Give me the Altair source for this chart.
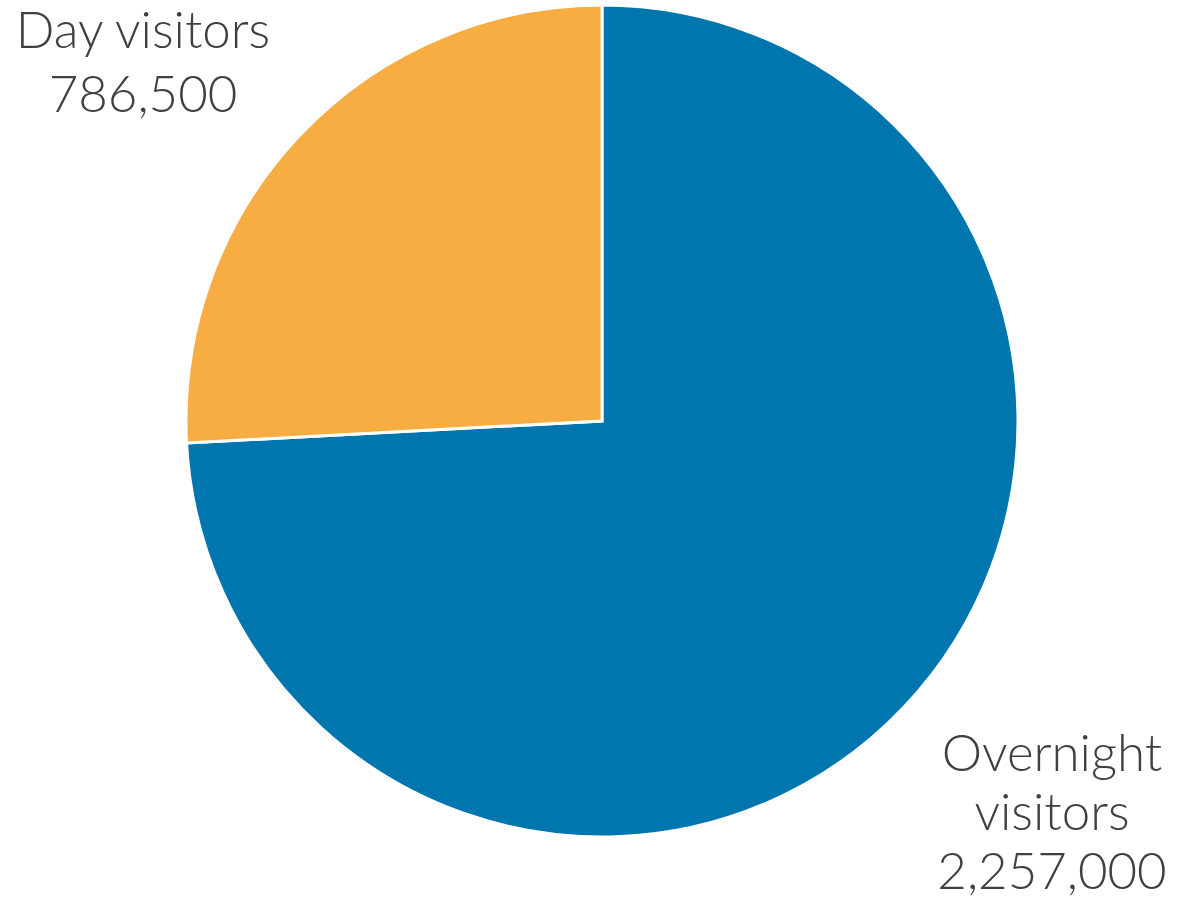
import altair as alt
import pandas as pd

categories = ["Overnight visitors", "Day visitors"]
values = [2257000, 786500]
colors = ["#0076AE", "#F8AD42"]

df = pd.DataFrame({"category": categories, "value": values, "order": [0, 1]})

base = alt.Chart(df)

pie = base.mark_arc(radius=416, stroke="white", strokeWidth=3).encode(
    theta=alt.Theta("value:Q", stack=True),
    color=alt.Color("category:N", scale=alt.Scale(domain=categories, range=colors), legend=None),
    order=alt.Order("order:Q"),
    x=alt.value(602),
    y=alt.value(421),
)

font = "Lato"

day_label = alt.Chart(pd.DataFrame({"t": [["Day visitors", f"{values[1]:,}"]]})).mark_text(
    font=font, fontSize=51, fontWeight=300, color="#404040", align="center",
    baseline="alphabetic", lineHeight=64
).encode(text="t", x=alt.value(143), y=alt.value(48))

night_label = alt.Chart(pd.DataFrame({"t": [["Overnight", "visitors", f"{values[0]:,}"]]})).mark_text(
    font=font, fontSize=51, fontWeight=300, color="#404040", align="center",
    baseline="alphabetic", lineHeight=59
).encode(text="t", x=alt.value(1052), y=alt.value(771))

chart = alt.layer(pie, day_label, night_label).properties(
    width=1183, height=901, autosize="none", padding=0
).configure_view(stroke=None)

chart.save("out.html", embed_options={"renderer": "svg", "actions": False})
